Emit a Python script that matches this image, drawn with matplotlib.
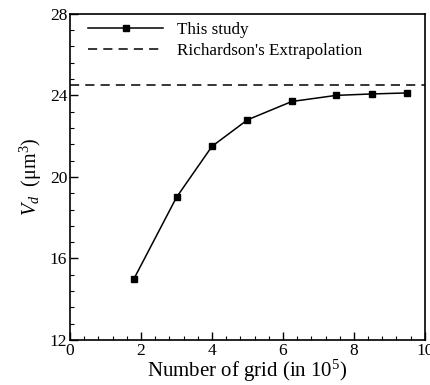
import numpy as np
import matplotlib.pyplot as plt
from matplotlib.ticker import MultipleLocator

plt.rcParams['font.family'] = ['Liberation Serif', 'DejaVu Serif']
plt.rcParams['mathtext.fontset'] = 'custom'
plt.rcParams['mathtext.rm'] = 'Liberation Serif'
plt.rcParams['mathtext.it'] = 'Liberation Serif:italic'

# ----------------- DATA -----------------

grid = [1.8, 3.0, 4.0, 5.0, 6.25, 7.5, 8.5, 9.5]          # x 10^5 cells
vd = [15.0, 19.0, 21.5, 22.8, 23.7, 24.0, 24.07, 24.12]    # um^3
richardson = 24.5

# ----------------- PLOT -----------------

fig = plt.figure(figsize=(4.3, 3.85), dpi=100)
ax = fig.add_axes([0.163, 0.117, 0.825, 0.847])

ax.plot(grid, vd, color="black", lw=1.1, marker="s", ms=5, label="This study")
ax.axhline(richardson, color="black", lw=1.1, ls=(0, (6, 4)), label="Richardson's Extrapolation")

ax.set_xlim(0, 10)
ax.set_ylim(12, 28)
ax.xaxis.set_major_locator(MultipleLocator(2))
ax.xaxis.set_minor_locator(MultipleLocator(0.4))
ax.yaxis.set_major_locator(MultipleLocator(4))
ax.yaxis.set_minor_locator(MultipleLocator(0.8))
ax.tick_params(which="both", direction="in", top=False, right=False, labelsize=12.5, pad=2)
ax.tick_params(which="major", length=6, width=1)
ax.tick_params(which="minor", length=3, width=0.8)
for s in ax.spines.values():
    s.set_linewidth(1.2)

ax.set_xlabel(r"Number of grid (in 10$^5$)", fontsize=15, labelpad=-1)
ax.set_ylabel(r"$V_d$  ($\mathrm{\mu m^3}$)", fontsize=14.5, labelpad=4)

ax.legend(loc="upper left", bbox_to_anchor=(0.031, 0.995), frameon=False, fontsize=12.3,
          handlelength=4.4, borderaxespad=0, handletextpad=0.8, labelspacing=0.3)

fig.savefig("out.png", dpi=100)
